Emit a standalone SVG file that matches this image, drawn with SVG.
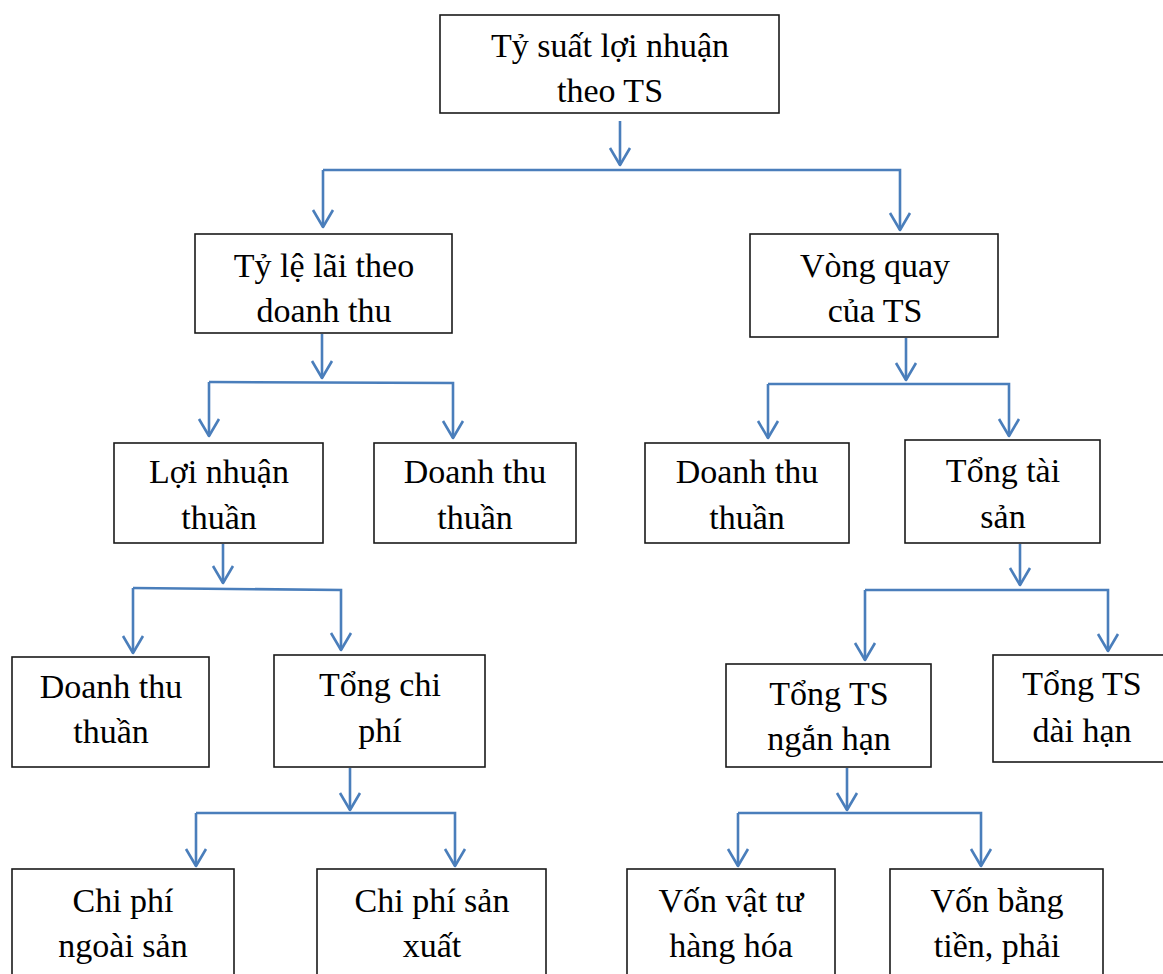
<svg xmlns="http://www.w3.org/2000/svg" width="1163" height="974" viewBox="0 0 1163 974">
<style>
.box{fill:#fff;stroke:#1a1a1a;stroke-width:1.6}
.t{font-family:'Liberation Serif','Times New Roman',Times,'DejaVu Serif',serif;font-size:34px;fill:#000;text-anchor:middle}
.c{fill:none;stroke:#4a7ebb;stroke-width:2.6}
</style>
<defs>
<marker id="ah" markerUnits="userSpaceOnUse" orient="auto" overflow="visible" markerWidth="20" markerHeight="20" refX="0" refY="0">
<path d="M-17,-10 L0,0 L-17,10" fill="none" stroke="#4a7ebb" stroke-width="2.6" stroke-linejoin="round"/>
</marker>
</defs>
<rect width="1163" height="974" fill="#fff"/>
<g id="connectors">
<line class="c" x1="620" y1="121" x2="620" y2="165" marker-end="url(#ah)"/>
<polyline class="c" points="323,170 900,170 900,230" marker-end="url(#ah)"/>
<line class="c" x1="323" y1="170" x2="323" y2="227" marker-end="url(#ah)"/>
<line class="c" x1="322" y1="334" x2="322" y2="378" marker-end="url(#ah)"/>
<polyline class="c" points="209,382 453,383 453,438" marker-end="url(#ah)"/>
<line class="c" x1="209" y1="382" x2="209" y2="436" marker-end="url(#ah)"/>
<line class="c" x1="906" y1="338" x2="906" y2="380" marker-end="url(#ah)"/>
<polyline class="c" points="768,384 1009,384 1009,436" marker-end="url(#ah)"/>
<line class="c" x1="768" y1="384" x2="768" y2="438" marker-end="url(#ah)"/>
<line class="c" x1="223" y1="544" x2="223" y2="583" marker-end="url(#ah)"/>
<polyline class="c" points="133,588 341,590 341,650" marker-end="url(#ah)"/>
<line class="c" x1="133" y1="588" x2="133" y2="653" marker-end="url(#ah)"/>
<line class="c" x1="1020" y1="544" x2="1020" y2="585" marker-end="url(#ah)"/>
<polyline class="c" points="865,590 1108,590 1108,651" marker-end="url(#ah)"/>
<line class="c" x1="865" y1="590" x2="865" y2="660" marker-end="url(#ah)"/>
<line class="c" x1="350" y1="768" x2="350" y2="810" marker-end="url(#ah)"/>
<polyline class="c" points="196,813 455,813 455,866" marker-end="url(#ah)"/>
<line class="c" x1="196" y1="813" x2="196" y2="866" marker-end="url(#ah)"/>
<line class="c" x1="847" y1="768" x2="847" y2="810" marker-end="url(#ah)"/>
<polyline class="c" points="738,813 981,813 981,866" marker-end="url(#ah)"/>
<line class="c" x1="738" y1="813" x2="738" y2="866" marker-end="url(#ah)"/>
</g>
<g id="n-root">
<rect class="box" x="440" y="15" width="339" height="98"/>
<text class="t" x="610" y="57">Tỷ suất lợi nhuận</text>
<text class="t" x="610" y="102">theo TS</text>
</g>
<g id="n-tyle">
<rect class="box" x="195" y="234" width="257" height="99"/>
<text class="t" x="324" y="277">Tỷ lệ lãi theo</text>
<text class="t" x="324" y="322">doanh thu</text>
</g>
<g id="n-vongquay">
<rect class="box" x="750" y="234" width="248" height="103"/>
<text class="t" x="875" y="277">Vòng quay</text>
<text class="t" x="875" y="322">của TS</text>
</g>
<g id="n-loinhuan">
<rect class="box" x="114" y="443" width="209" height="100"/>
<text class="t" x="219" y="483">Lợi nhuận</text>
<text class="t" x="219" y="529">thuần</text>
</g>
<g id="n-dt1">
<rect class="box" x="374" y="443" width="202" height="100"/>
<text class="t" x="475" y="483">Doanh thu</text>
<text class="t" x="475" y="529">thuần</text>
</g>
<g id="n-dt2">
<rect class="box" x="645" y="443" width="204" height="100"/>
<text class="t" x="747" y="483">Doanh thu</text>
<text class="t" x="747" y="529">thuần</text>
</g>
<g id="n-tongts">
<rect class="box" x="905" y="440" width="195" height="103"/>
<text class="t" x="1003" y="482">Tổng tài</text>
<text class="t" x="1003" y="528">sản</text>
</g>
<g id="n-dt3">
<rect class="box" x="12" y="657" width="197" height="110"/>
<text class="t" x="111" y="698">Doanh thu</text>
<text class="t" x="111" y="743">thuần</text>
</g>
<g id="n-tongcp">
<rect class="box" x="274" y="655" width="211" height="112"/>
<text class="t" x="380" y="696">Tổng chi</text>
<text class="t" x="380" y="742">phí</text>
</g>
<g id="n-nganhan">
<rect class="box" x="726" y="664" width="205" height="103"/>
<text class="t" x="829" y="705">Tổng TS</text>
<text class="t" x="829" y="750">ngắn hạn</text>
</g>
<g id="n-daihan">
<rect class="box" x="993" y="655" width="180" height="107"/>
<text class="t" x="1082" y="695">Tổng TS</text>
<text class="t" x="1082" y="742">dài hạn</text>
</g>
<g id="n-cpngoai">
<rect class="box" x="12" y="869" width="222" height="120"/>
<text class="t" x="123" y="912">Chi phí</text>
<text class="t" x="123" y="957">ngoài sản</text>
</g>
<g id="n-cpsx">
<rect class="box" x="317" y="869" width="229" height="120"/>
<text class="t" x="432" y="912">Chi phí sản</text>
<text class="t" x="432" y="957">xuất</text>
</g>
<g id="n-vonvattu">
<rect class="box" x="627" y="869" width="208" height="120"/>
<text class="t" x="731" y="912">Vốn vật tư</text>
<text class="t" x="731" y="957">hàng hóa</text>
</g>
<g id="n-vonbang">
<rect class="box" x="890" y="869" width="213" height="120"/>
<text class="t" x="997" y="912">Vốn bằng</text>
<text class="t" x="997" y="957">tiền, phải</text>
</g>
</svg>
